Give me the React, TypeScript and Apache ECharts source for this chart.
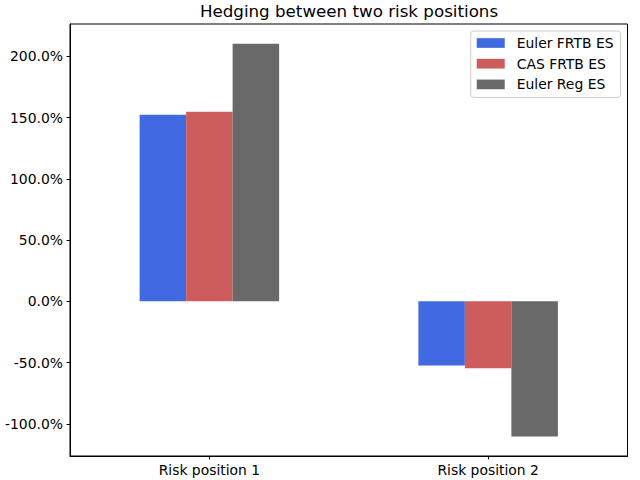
import React, { useEffect, useRef } from "react";
import * as echarts from "echarts";

const categories = ["Risk position 1", "Risk position 2"];
const seriesNames = ["Euler FRTB ES", "CAS FRTB ES", "Euler Reg ES"];
const eulerFrtbEs = [152.3, -52.4];
const casFrtbEs = [154.8, -54.6];
const eulerRegEs = [210.3, -110.3];
const yTicks = [-100, -50, 0, 50, 100, 150, 200];
const colors = ["#4169e1", "#cd5c5c", "#696969"];

const FONT = "DejaVu Sans";

export default function App() {
  const ref = useRef<HTMLDivElement>(null);
  useEffect(() => {
    document.body.style.margin = "0";
    const chart = echarts.init(ref.current!, null, { renderer: "svg" });
    const values = [eulerFrtbEs, casFrtbEs, eulerRegEs];
    chart.setOption({
      animation: false,
      backgroundColor: "#ffffff",
      title: {
        text: "Hedging between two risk positions",
        left: 349,
        textAlign: "center",
        top: 0.5,
        padding: 0,
        textStyle: {
          fontFamily: FONT,
          fontSize: 16.7,
          fontWeight: "normal",
          color: "#000",
          lineHeight: 20,
        },
      },
      legend: {
        orient: "vertical",
        right: 19.5,
        top: 31,
        itemWidth: 28,
        itemHeight: 9.7,
        itemGap: 4.7,
        padding: [4, 7, 5, 6],
        borderColor: "#cccccc",
        borderWidth: 1,
        borderRadius: 3,
        backgroundColor: "rgba(255,255,255,0.8)",
        icon: "rect",
        data: seriesNames,
        textStyle: {
          fontFamily: FONT,
          fontSize: 13.9,
          color: "#000",
          lineHeight: 16,
          padding: [0, 0, 0, 7],
        },
      },
      grid: {
        left: 70,
        right: 12.5,
        top: 24,
        bottom: 24,
        show: true,
        borderColor: "#000",
        borderWidth: 1,
        containLabel: false,
      },
      xAxis: {
        type: "category",
        data: categories,
        boundaryGap: true,
        axisLine: { show: true, onZero: false, lineStyle: { color: "#000", width: 1 } },
        axisTick: { show: true, alignWithLabel: true, length: 3.5, lineStyle: { color: "#000", width: 1 } },
        axisLabel: {
          fontFamily: FONT,
          fontSize: 13.9,
          color: "#000",
          margin: 7,
        },
        splitLine: { show: false },
      },
      yAxis: {
        type: "value",
        min: -126.3,
        max: 226.5,
        axisLine: { show: true, lineStyle: { color: "#000", width: 1 } },
        axisTick: {
          show: true,
          length: 3.5,
          customValues: yTicks,
          lineStyle: { color: "#000", width: 1 },
        },
        axisLabel: {
          fontFamily: FONT,
          fontSize: 13.9,
          color: "#000",
          margin: 7,
          customValues: yTicks,
          formatter: (v: number) => v.toFixed(1) + "%",
        },
        splitLine: { show: false },
      },
      series: seriesNames.map((name, i) => ({
        name,
        type: "bar",
        data: values[i],
        barWidth: 46.5,
        barGap: "0%",
        itemStyle: { color: colors[i] },
      })),
    });
    return () => chart.dispose();
  }, []);
  return <div ref={ref} style={{ width: 640, height: 480 }} />;
}
